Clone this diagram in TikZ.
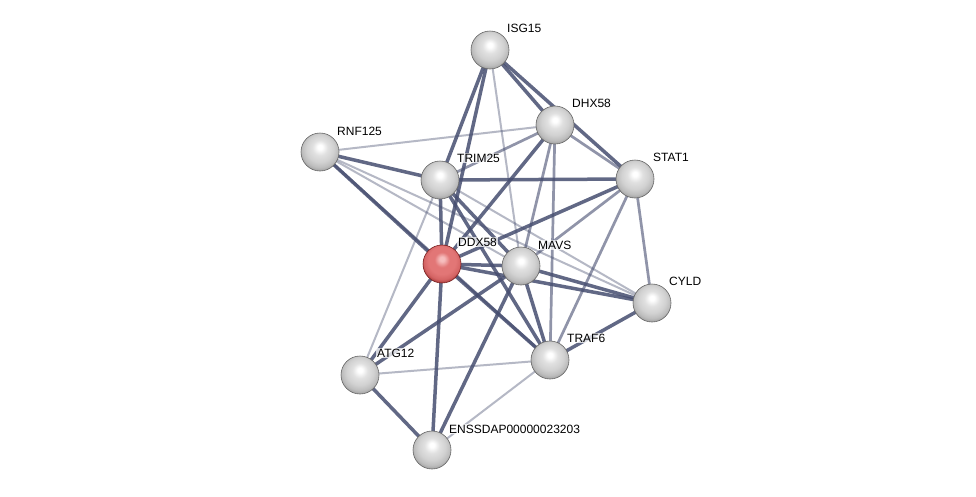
\documentclass[tikz,border=0pt]{standalone}
\usepackage{fontspec}
\setmainfont{Liberation Sans}
\definecolor{edgecol}{RGB}{70,78,112}
\definecolor{rtop}{RGB}{246,190,190}
\definecolor{rmid}{RGB}{226,118,118}
\definecolor{rlow}{RGB}{212,100,100}
\definecolor{rrim}{RGB}{150,40,40}
\pgfdeclareradialshading{graysphere}{\pgfpoint{0bp}{7bp}}{color(0bp)=(white); color(3bp)=(white); color(10bp)=(black!12); color(18bp)=(black!18); color(24bp)=(black!26); color(29bp)=(black!40); color(32bp)=(black!50); color(50bp)=(black!50)}
\pgfdeclareradialshading{redsphere}{\pgfpoint{0bp}{7bp}}{color(0bp)=(rtop); color(3bp)=(rtop); color(10bp)=(rmid); color(18bp)=(rmid); color(24bp)=(rlow); color(29bp)=(rrim!80!rlow); color(32bp)=(rrim); color(50bp)=(rrim)}
\begin{document}
\begin{tikzpicture}[x=1pt,y=-1pt,
  strong/.style={draw=edgecol,line width=3.5pt,draw opacity=0.85},
  medium/.style={draw=edgecol,line width=2.7pt,draw opacity=0.6},
  light/.style={draw=edgecol,line width=2pt,draw opacity=0.4},
  ball/.style={circle,minimum size=38pt,inner sep=0pt,shading=graysphere,draw=black!60,line width=0.6pt},
  redball/.style={ball,shading=redsphere,draw=rrim!80!black},
  lbl/.style={anchor=west,font=\fontsize{12}{14}\selectfont,fill=white,fill opacity=0.75,text opacity=1,inner sep=1pt}]
\useasboundingbox[fill=white] (0,0) rectangle (976,496);
% positions
\coordinate (ISG15) at (490,50);
\coordinate (DHX58) at (555,125);
\coordinate (RNF125) at (320,152);
\coordinate (TRIM25) at (440,180);
\coordinate (STAT1) at (635,179);
\coordinate (DDX58) at (442,264);
\coordinate (MAVS) at (521,266);
\coordinate (CYLD) at (652,303);
\coordinate (TRAF6) at (550,360);
\coordinate (ATG12) at (360,375);
\coordinate (ENSS) at (432,450);
% light edges
\draw[light] (RNF125) -- (DHX58);
\draw[light] (RNF125) -- (MAVS);
\draw[light] (RNF125) -- (CYLD);
\draw[light] (ISG15) -- (MAVS);
\draw[light] (TRIM25) -- (ATG12);
\draw[light] (TRIM25) -- (CYLD);
\draw[light] (TRAF6) -- (ATG12);
\draw[light] (TRAF6) -- (ENSS);
% medium edges
\draw[medium] (RNF125) -- (TRAF6);
\draw[medium] (DHX58) -- (TRIM25);
\draw[medium] (DHX58) -- (MAVS);
\draw[medium] (DHX58) -- (TRAF6);
\draw[medium] (DHX58) -- (STAT1);
\draw[medium] (STAT1) -- (TRAF6);
\draw[medium] (STAT1) -- (CYLD);
\draw[medium] (STAT1) -- (MAVS);
% strong edges
\draw[strong] (ISG15) -- (TRIM25);
\draw[strong] (ISG15) -- (DDX58);
\draw[strong] (ISG15) -- (DHX58);
\draw[strong] (ISG15) -- (STAT1);
\draw[strong] (DHX58) -- (DDX58);
\draw[strong] (RNF125) -- (TRIM25);
\draw[strong] (RNF125) -- (DDX58);
\draw[strong] (TRIM25) -- (STAT1);
\draw[strong] (TRIM25) -- (DDX58);
\draw[strong] (TRIM25) -- (MAVS);
\draw[strong] (TRIM25) -- (TRAF6);
\draw[strong] (STAT1) -- (DDX58);
\draw[strong] (DDX58) -- (MAVS);
\draw[strong] (DDX58) -- (CYLD);
\draw[strong] (DDX58) -- (TRAF6);
\draw[strong] (DDX58) -- (ATG12);
\draw[strong] (DDX58) -- (ENSS);
\draw[strong] (MAVS) -- (ATG12);
\draw[strong] (MAVS) -- (ENSS);
\draw[strong] (MAVS) -- (TRAF6);
\draw[strong] (MAVS) -- (CYLD);
\draw[strong] (TRAF6) -- (CYLD);
\draw[strong] (ATG12) -- (ENSS);
% nodes
\node[ball] (nISG15) at (ISG15) {};
\node[ball] (nDHX58) at (DHX58) {};
\node[ball] (nRNF125) at (RNF125) {};
\node[ball] (nTRIM25) at (TRIM25) {};
\node[ball] (nSTAT1) at (STAT1) {};
\node[redball] (nDDX58) at (DDX58) {};
\node[ball] (nMAVS) at (MAVS) {};
\node[ball] (nCYLD) at (CYLD) {};
\node[ball] (nTRAF6) at (TRAF6) {};
\node[ball] (nATG12) at (ATG12) {};
\node[ball] (nENSS) at (ENSS) {};
% labels
\node[lbl] (lISG15) at (506,28) {ISG15};
\node[lbl] (lDHX58) at (571,103) {DHX58};
\node[lbl] (lRNF125) at (336,131) {RNF125};
\node[lbl] (lTRIM25) at (456,158) {TRIM25};
\node[lbl] (lSTAT1) at (652,157) {STAT1};
\node[lbl] (lDDX58) at (457,242) {DDX58};
\node[lbl] (lMAVS) at (537,245) {MAVS};
\node[lbl] (lCYLD) at (668,281) {CYLD};
\node[lbl] (lTRAF6) at (566,338) {TRAF6};
\node[lbl] (lATG12) at (376,353) {ATG12};
\node[lbl] (lENSS) at (448,429) {ENSSDAP00000023203};
\end{tikzpicture}
\end{document}
